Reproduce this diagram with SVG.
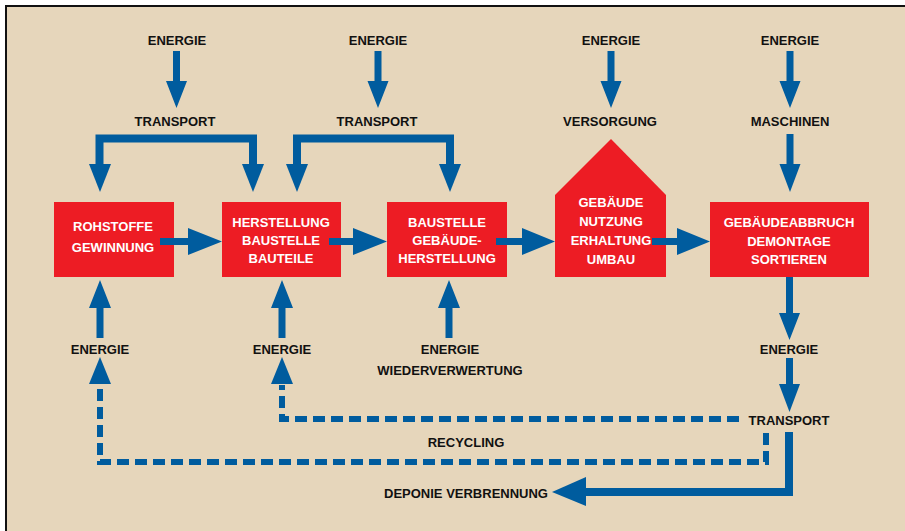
<svg xmlns="http://www.w3.org/2000/svg" width="905" height="531" viewBox="0 0 905 531">
<defs>
<style>
.lbl{font-family:"Liberation Sans",Arial,sans-serif;font-weight:bold;font-size:13px;fill:#111;text-anchor:middle}
.box{fill:#ED1C24}
.btx{font-family:"Liberation Sans",Arial,sans-serif;font-weight:bold;font-size:13px;fill:#fff;text-anchor:middle}
.ar{fill:#005C9E}
.ln{fill:none;stroke:#005C9E;stroke-width:8}
.dash{fill:none;stroke:#005C9E;stroke-width:6;stroke-dasharray:12 6}
</style>
</defs>
<rect x="0" y="0" width="905" height="531" fill="#ffffff"/>
<rect x="6" y="6" width="900" height="530" fill="#E6D6BB" stroke="#111" stroke-width="2"/>

<g id="labels">
<text class="lbl" x="177" y="45">ENERGIE</text>
<text class="lbl" x="378" y="45">ENERGIE</text>
<text class="lbl" x="611" y="45">ENERGIE</text>
<text class="lbl" x="790" y="45">ENERGIE</text>
<text class="lbl" x="175" y="126">TRANSPORT</text>
<text class="lbl" x="377" y="126">TRANSPORT</text>
<text class="lbl" x="610" y="126">VERSORGUNG</text>
<text class="lbl" x="790" y="126">MASCHINEN</text>
<text class="lbl" x="100" y="354">ENERGIE</text>
<text class="lbl" x="282" y="354">ENERGIE</text>
<text class="lbl" x="450" y="354">ENERGIE</text>
<text class="lbl" x="450" y="375">WIEDERVERWERTUNG</text>
<text class="lbl" x="789" y="354">ENERGIE</text>
<text class="lbl" x="789" y="425">TRANSPORT</text>
<text class="lbl" x="466" y="447">RECYCLING</text>
<text class="lbl" x="466" y="498">DEPONIE VERBRENNUNG</text>
</g>

<g id="n1">
<rect class="box" x="54" y="202" width="120" height="75"/>
<text class="btx" x="113" y="231">ROHSTOFFE</text>
<text class="btx" x="113" y="252">GEWINNUNG</text>
</g>
<g id="n2">
<rect class="box" x="222" y="202" width="119" height="75"/>
<text class="btx" x="281" y="227">HERSTELLUNG</text>
<text class="btx" x="281" y="245">BAUSTELLE</text>
<text class="btx" x="281" y="263">BAUTEILE</text>
</g>
<g id="n3">
<rect class="box" x="387" y="202" width="120" height="75"/>
<text class="btx" x="447" y="227">BAUSTELLE</text>
<text class="btx" x="447" y="245">GEBÄUDE-</text>
<text class="btx" x="447" y="263">HERSTELLUNG</text>
</g>
<g id="n4">
<polygon class="box" points="555,195 611,139 666,195 666,277 555,277"/>
<text class="btx" x="611" y="207">GEBÄUDE</text>
<text class="btx" x="611" y="226">NUTZUNG</text>
<text class="btx" x="611" y="245">ERHALTUNG</text>
<text class="btx" x="611" y="264">UMBAU</text>
</g>
<g id="n5">
<rect class="box" x="710" y="202" width="159" height="75"/>
<text class="btx" x="789" y="227">GEBÄUDEABBRUCH</text>
<text class="btx" x="789" y="246">DEMONTAGE</text>
<text class="btx" x="789" y="264">SORTIEREN</text>
</g>

<g id="connectors">
<!-- top energy arrows -->
<polygon class="ar" points="173,51 180,51 180,81 187,81 176.5,108 166,81 173,81"/>
<polygon class="ar" points="374.5,51 381.5,51 381.5,81 388.5,81 378,108 367.5,81 374.5,81"/>
<polygon class="ar" points="607.5,51 614.5,51 614.5,81 621.5,81 611,108 600.5,81 607.5,81"/>
<polygon class="ar" points="786.5,51 793.5,51 793.5,81 800.5,81 790,108 779.5,81 786.5,81"/>
<!-- maschinen arrow -->
<polygon class="ar" points="786.5,134 793.5,134 793.5,164 800.5,164 790,192 779.5,164 786.5,164"/>
<!-- transport bracket 1 -->
<path class="ln" d="M99.5,165 V138.5 H253 V165"/>
<polygon class="ar" points="89,164 111,164 100,192"/>
<polygon class="ar" points="242,164 264,164 253,192"/>
<!-- transport bracket 2 -->
<path class="ln" d="M297,165 V138.5 H450 V165"/>
<polygon class="ar" points="286,164 308,164 297,192"/>
<polygon class="ar" points="439,164 461,164 450,192"/>
<!-- horizontal arrows between boxes -->
<polygon class="ar" points="160,238 188,238 188,228 222,241.5 188,255 188,245 160,245"/>
<polygon class="ar" points="329,238 353,238 353,228 387,241.5 353,255 353,245 329,245"/>
<polygon class="ar" points="496,238 522,238 522,228 555,241.5 522,255 522,245 496,245"/>
<polygon class="ar" points="652,238 677,238 677,228 710,241.5 677,255 677,245 652,245"/>
<!-- bottom up arrows -->
<polygon class="ar" points="96.5,338 103.5,338 103.5,308 111,308 100,280 89,308 96.5,308"/>
<polygon class="ar" points="278.5,338 285.5,338 285.5,308 293,308 282,280 271,308 278.5,308"/>
<polygon class="ar" points="445.5,338 452.5,338 452.5,308 460,308 449,280 438,308 445.5,308"/>
<!-- dashed recycling arrows -->
<polygon class="ar" points="89,384 111,384 100,357"/>
<polygon class="ar" points="271,384 293,384 282,357"/>
<path class="dash" d="M739,419 H282 V385"/>
<path class="dash" d="M766,433 V462 H100 V385"/>
<!-- right side chain -->
<polygon class="ar" points="786,277 793,277 793,313 800,313 789.5,340 779,313 786,313"/>
<polygon class="ar" points="786,358 793,358 793,384 800,384 789.5,412 779,384 786,384"/>
<path class="ln" d="M789,432 V492 H585"/>
<polygon class="ar" points="586,477 586,506 552,492"/>
</g>
</svg>
